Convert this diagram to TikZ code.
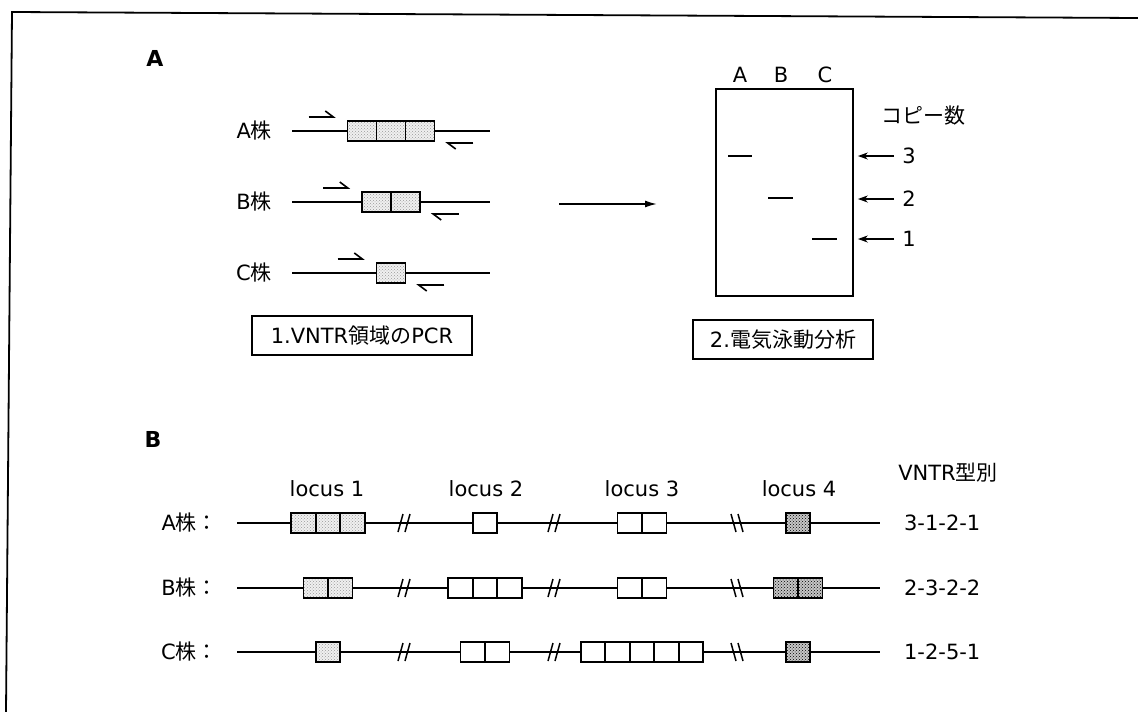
\documentclass[tikz,border=0pt]{standalone}
\usepackage{fontspec}
\setmainfont{DejaVu Sans}
\newfontfamily\jp{Noto Sans CJK JP}
\usetikzlibrary{arrows.meta,calc,positioning,patterns}
% one block of repeat units: name, centre x, y, count, cell width, style
\newcommand{\cells}[6]{%
  \foreach \k in {1,...,#4}
    \node[#6,minimum width=#5pt] (#1-\k) at ({#2+(\k-0.5-#4/2)*#5},#3) {};}
\tikzset{
  cutf/.pic={\draw[line width=1.5pt] (-7,9) -- (-2,-9) (0,9) -- (5,-9);},
  cutb/.pic={\draw[line width=1.5pt] (-7,-9) -- (-2,9) (0,-9) -- (5,9);}
}

\begin{document}
\begin{tikzpicture}[x=1pt,y=-1pt,line width=1.6pt,
  every node/.style={font=\fontsize{21}{24}\selectfont},
  strand/.style={line width=1.8pt},
  cell/.style={draw,line width=1.6pt,inner sep=0pt,minimum height=20pt,fill=white},
  speckle/.style={cell,preaction={fill=gray!12},pattern=crosshatch dots,pattern color=gray!80},
  speckdark/.style={cell,preaction={fill=gray!45},pattern=crosshatch dots,pattern color=black},
  primer/.style={line width=1.6pt,-{Straight Barb[left,length=8pt,width=12pt]}},
  band/.style={line width=2pt},
  section/.style={font=\fontsize{22}{24}\selectfont\bfseries},
  capbox/.style={draw,line width=1.5pt,minimum height=39pt,inner sep=2pt}]
\useasboundingbox (0,0) rectangle (1138,712);
\draw[line width=1.8pt] (1138,18) -- (12,12) -- (6,712);

% A: PCR of the VNTR region
\node[section] (secA) at (155,58) {A};
\foreach \row/\yy/\n in {A/131/3, B/202/2, C/273/1}{
  \node[anchor=east] (strain\row) at (276,\yy) {\row{\jp 株}};
  \coordinate (l\row) at (292,\yy);
  \coordinate (r\row) at (490,\yy);
  \cells{p\row}{391}{\yy}{\n}{29}{speckle}
  \draw[strand] (l\row) -- (p\row-1.west) (p\row-\n.east) -- (r\row);
  \draw[primer] ($(p\row-1.west)+(-38,-14)$) -- ($(p\row-1.west)+(-11,-14)$);
  \draw[primer] ($(p\row-\n.east)+(38,12)$) -- ($(p\row-\n.east)+(10,12)$);
}
\node[capbox,minimum width=220pt] (pcr) at (362,335.5) {1.VNTR{\jp 領域の}PCR};

\coordinate (go) at (559,204);
\coordinate (gelin) at (657,204);
\draw[-{Latex[length=12pt,width=7pt]}] (go) -- (gelin);

% gel
\node[draw,line width=1.7pt,inner sep=0pt,minimum width=137pt,minimum height=207pt] (gel) at (784.5,192.5) {};
\foreach \l/\xx in {A/740,B/781,C/825}
  \node (lane\l) at (\xx,75) {\l};
\draw[band] (728,156) -- (752,156);
\draw[band] (768,198) -- (793,198);
\draw[band,line width=2.8pt] (812,239) -- (837,239);
\node (copyhead) at (923,116) {\jp コピー数};
\foreach \c/\yy in {3/156,2/199,1/239}{
  \node (copy\c) at (909,\yy) {\c};
  \draw[-{Stealth[length=10pt,width=7pt]}] ([xshift=-4pt]copy\c.west) -- ([xshift=4pt]gel.east |- copy\c);
}
\node[capbox,minimum width=180pt] (gelcap) at (783,339.5) {2.{\jp 電気泳動分析}};

% B: four loci
\node[section] (secB) at (153,439) {B};
\foreach \i/\xx in {1/327,2/486,3/642,4/799}
  \node (locus\i) at (\xx,489) {locus \i};
\node (typehead) at (948,473) {VNTR{\jp 型別}};
\foreach \row/\yy/\na/\nb/\nc/\nd/\code in {A/523/3/1/2/1/3-1-2-1, B/588/2/3/2/2/2-3-2-2, C/652/1/2/5/1/1-2-5-1}{
  \node[anchor=east] (lab\row) at (222,\yy) {\row{\jp 株：}};
  \coordinate (s\row) at (237,\yy);
  \coordinate (e\row) at (880,\yy);
  \cells{\row1}{328}{\yy}{\na}{24.5}{speckle}
  \cells{\row2}{485}{\yy}{\nb}{24.5}{cell}
  \cells{\row3}{642}{\yy}{\nc}{24.5}{cell}
  \cells{\row4}{798}{\yy}{\nd}{24.5}{speckdark}
  \draw[strand] (s\row) -- (\row1-1.west) (\row1-\na.east) -- (\row2-1.west)
    (\row2-\nb.east) -- (\row3-1.west) (\row3-\nc.east) -- (\row4-1.west)
    (\row4-\nd.east) -- (e\row);
  \pic at (405,\yy) {cutf};
  \pic at (555,\yy) {cutf};
  \pic at (738,\yy) {cutb};
  \node[anchor=west] (type\row) at (900,\yy) {\code};
}
\end{tikzpicture}
\end{document}
